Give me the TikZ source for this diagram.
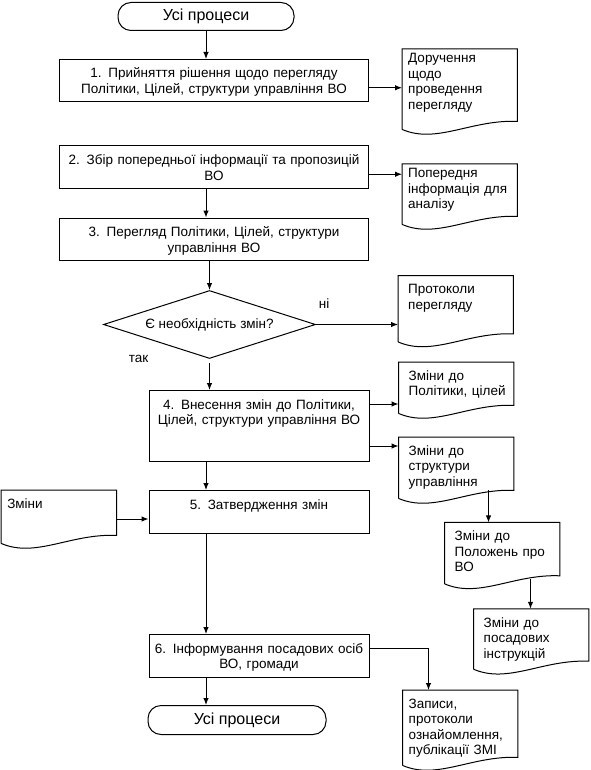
\documentclass[tikz,border=0pt]{standalone}
\usepackage{fontspec}
\setmainfont{Liberation Sans}
\usetikzlibrary{arrows.meta,positioning,shapes.geometric,calc}
\newcommand{\procfont}{\fontsize{13.5}{15.5}\selectfont}
\tikzset{
  terminal/.style={
    draw,
    line width=1pt,
    rounded corners=13pt,
    minimum height=28pt,
    inner sep=0pt,
    font=\fontsize{16}{18}\selectfont
  },
  stepbox/.style={
    draw,
    line width=1pt,
    align=center,
    inner xsep=2pt,
    inner ysep=0pt,
    text height=18.5pt,
    text depth=24pt,
    font=\procfont
  },
  decision/.style={
    diamond,
    draw,
    line width=1pt,
    aspect=3.1,
    inner sep=0pt,
    minimum width=212pt,
    minimum height=68pt,
    font=\procfont
  },
  paper/.style={
    align=left,
    inner xsep=10pt,
    inner ysep=0pt,
    text width=95pt,
    text height=18pt,
    font=\procfont
  },
  tight/.style={inner xsep=6pt, text width=103pt},
  outline/.style={line width=1pt},
  lbl/.style={inner sep=1pt, font=\procfont},
  arrow/.style={-{Latex[length=7pt,width=5.5pt]}, line width=1pt}
}

\begin{document}
\begin{tikzpicture}[x=1pt, y=-1pt]
  \useasboundingbox (0,0) rectangle (590,770);

  % main column
  \node[terminal, minimum width=176pt] (start) at (206,16.5) {Усі процеси};
  \node[stepbox, text width=305pt, below right=28pt and -147pt of start.south] (box1)
    {1. Прийняття рішення щодо перегляду\\Політики, Цілей, структури управління ВО};
  \node[stepbox, text width=305pt, below=43pt of box1] (box2)
    {2. Збір попередньої інформації та пропозицій\\ВО};
  \node[stepbox, text width=305pt, below=28.5pt of box2] (box3)
    {3. Перегляд Політики, Цілей, структури\\управління ВО};
  \node[decision, below=29pt of box3, xshift=-4.5pt] (dec) {Є необхідність змін?};
  \node[stepbox, text width=216pt, text depth=52.5pt, below right=31pt and -61pt of dec.south] (box4)
    {4. Внесення змін до Політики,\\Цілей, структури управління ВО};
  \node[stepbox, text width=216pt, below=28pt of box4] (box5) {5. Затвердження змін};
  \node[stepbox, text width=216pt, below=100.5pt of box5] (box6)
    {6. Інформування посадових осіб\\ВО, громади};
  \node[terminal, minimum width=178pt, minimum height=29pt, anchor=north west,
    below right=27.5pt and -1pt of box6.south west] (end) {Усі процеси};

  % documents
  \node[paper, tight, text height=13.5pt, text depth=66.5pt, below right=-10pt and 33pt of box1.north east] (doc1)
    {Доручення\\щодо\\проведення\\перегляду};
  \node[paper, tight, text height=13.5pt, text depth=46.5pt, below right=18.5pt and 33pt of box2.north east] (doc2)
    {Попередня\\інформація для\\аналізу};
  \node[paper, text depth=48pt, below right=-49pt and 82pt of dec.east] (doc3)
    {Протоколи\\перегляду};
  \node[paper, text depth=33pt, below right=-28pt and 29pt of box4.north east] (doc4)
    {Зміни до\\\mbox{Політики, цілей}};
  \node[paper, text depth=43pt, below right=47pt and 29pt of box4.north east] (doc5)
    {Зміни до\\структури\\управління};
  \node[paper, text depth=43pt, below right=24pt and 46pt of doc5.south west] (doc6)
    {Зміни до\\Положень про\\ВО};
  \node[paper, text depth=42pt, below right=25pt and 29pt of doc6.south west] (doc7)
    {Зміни до\\посадових\\інструкцій};
  \node[paper, tight, text depth=57pt, below right=56pt and 33pt of box6.north east] (doc8)
    {Записи,\\протоколи\\ознайомлення,\\публікації ЗМІ};
  \node[paper, tight, text depth=35pt, below left=0pt and 32pt of box5.north west] (zmin) {Зміни};

  \foreach \d in {doc1,doc2,doc3,doc4,doc5,doc6,doc7,doc8,zmin}
    \draw[outline] (\d.south west) -- (\d.north west) -- (\d.north east) -- ([yshift=8pt]\d.south east)
      .. controls ($(\d.south west)!0.6!(\d.south east)+(0pt,10pt)$)
      and ($(\d.south west)!0.3!(\d.south east)+(0pt,-15pt)$) .. (\d.south west);

  % labels
  \node[lbl, left=60pt of dec.south] (lblYes) {так};

  % connectors
  \coordinate (d5out) at ([xshift=90pt,yshift=8pt]doc5.south west);
  \coordinate (d6out) at ([xshift=86pt,yshift=5pt]doc6.south west);

  \draw[arrow] (start) -- (start |- box1.north);
  \draw[arrow] ([yshift=-7pt]box1.east) -- ([yshift=-7pt]box1.east -| doc1.west);
  \draw[arrow] ([yshift=-7pt]box2.east) -- ([yshift=-7pt]box2.east -| doc2.west);
  \draw[arrow] (box2.south -| start) -- (box3.north -| start);
  \draw[arrow] (box3.south -| dec) -- (dec.north);
  \draw[arrow] (dec.east) -- node[lbl, pos=0.1, above=15pt] (lblNo) {ні} (dec.east -| doc3.west);
  \draw[arrow] ([yshift=-4pt]dec.south) -- (dec.south |- box4.north);
  \draw[arrow] ([yshift=-14pt]box4.north east) -- ([yshift=-14pt]box4.north east -| doc4.west);
  \draw[arrow] ([yshift=-56pt]box4.north east) -- ([yshift=-56pt]box4.north east -| doc5.west);
  \draw[arrow] (box4.south -| start) -- (box5.north -| start);
  \draw[arrow] ([yshift=-29pt]box5.north west -| zmin.east) -- ([yshift=-29pt]box5.north west);
  \draw[arrow] (d5out) -- (d5out |- doc6.north);
  \draw[arrow] (d6out) -- (d6out |- doc7.north);
  \draw[arrow] (box5.south -| start) -- (box6.north -| start);
  \draw[arrow] ([yshift=-14pt]box6.north east) -| ([xshift=26pt]doc8.north west);
  \draw[arrow] (box6.south -| start) -- (end.north -| start);
\end{tikzpicture}
\end{document}
